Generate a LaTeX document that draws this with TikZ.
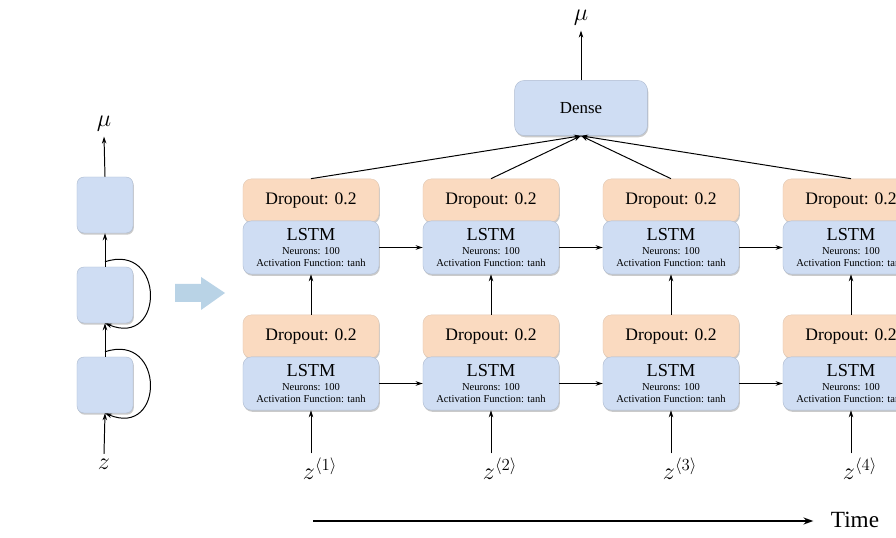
\documentclass[tikz,border=0pt]{standalone}
\usepackage{fontspec}
\setmainfont{Liberation Serif}
\usetikzlibrary{arrows.meta}
\usetikzlibrary{calc}
\usetikzlibrary{shadows}

\definecolor{cellblue}{HTML}{CFDDF3}
\definecolor{cellorange}{HTML}{FADAC0}
\definecolor{celledge}{HTML}{AEBBD0}
\definecolor{arrowblue}{HTML}{B9D3E6}

\tikzset{
  boxshadow/.style={drop shadow={shadow xshift=0.6pt,shadow yshift=-1.2pt,opacity=0.35,fill=black!60}},
  cell/.style={rectangle,rounded corners=5pt,fill=cellblue,draw=celledge,line width=0.3pt,minimum width=1.4cm,minimum height=1.4cm,boxshadow},
  lstmbox/.style={rectangle,rounded corners=6pt,fill=cellblue,draw=celledge,line width=0.3pt,minimum width=3.4cm,minimum height=1.33cm,inner sep=0pt,align=center,boxshadow},
  dropbox/.style={rectangle,rounded corners=6pt,fill=cellorange,draw=cellorange!80!gray,line width=0.3pt,minimum width=3.4cm,minimum height=1.08cm,inner sep=0pt,font=\fontsize{12.5}{14}\selectfont,boxshadow},
  densebox/.style={rectangle,rounded corners=7pt,fill=cellblue,draw=celledge,line width=0.3pt,minimum width=3.32cm,minimum height=1.38cm,font=\fontsize{12}{14}\selectfont,boxshadow},
  link/.style={-{Stealth[length=5pt,width=3.2pt]},line width=0.7pt},
  timeline/.style={-{Stealth[length=7pt,width=5pt]},line width=1.3pt}
}

\begin{document}
\begin{tikzpicture}[x=0.025cm,y=-0.025cm]
\useasboundingbox (0,0) rectangle (896,538);
\clip (0,0) rectangle (896,538);

% folded network
\node[cell] (c3) at (105,205) {};
\node[cell] (c2) at (105,295) {};
\node[cell] (c1) at (105,385) {};
\node[font=\fontsize{16}{16}\selectfont] (mu0) at (104,124) {$\mu$};
\node[font=\fontsize{16}{16}\selectfont] (z0) at (104,464) {$z$};
\draw[link] (c3.north) -- (mu0.south);
\draw[link] (c2.north) -- (c3.south);
\draw[link] (c1.north) -- (c2.south);
\draw[link] (z0.north) -- (c1.south);
\draw[link] ($(c2.north)+(0,-5)$) .. controls +(60,-20) and +(60,25) .. (c2.south);
\draw[link] ($(c1.north)+(0,-5)$) .. controls +(60,-20) and +(60,25) .. (c1.south);

\fill[arrowblue] (175,284) -- (201,284) -- (201,277) -- (225,293) -- (201,310) -- (201,302) -- (175,302) -- cycle;

% unrolled network
\foreach \i/\cx in {1/311,2/491,3/671,4/851}{
  \node[dropbox] (dropB\i) at (\cx,336.5) {Dropout: 0.2};
  \node[lstmbox] (lstmB\i) at (\cx,383.5) {{\fontsize{13}{14}\selectfont LSTM}\\[-1.5pt]{\fontsize{7.5}{8.5}\selectfont Neurons: 100}\\[-3.5pt]{\fontsize{7.5}{8.5}\selectfont Activation Function: tanh}};
  \node[dropbox] (dropA\i) at (\cx,200.5) {Dropout: 0.2};
  \node[lstmbox] (lstmA\i) at (\cx,247.5) {{\fontsize{13}{14}\selectfont LSTM}\\[-1.5pt]{\fontsize{7.5}{8.5}\selectfont Neurons: 100}\\[-3.5pt]{\fontsize{7.5}{8.5}\selectfont Activation Function: tanh}};
  \node[font=\fontsize{17}{17}\selectfont] (z\i) at (\cx+9,469) {$z^{\langle\i\rangle}$};
  \draw[link] (z\i.north -| lstmB\i.south) -- (lstmB\i.south);
  \draw[link] (dropB\i.north) -- (lstmA\i.south);
}
\foreach \i/\j in {1/2,2/3,3/4}{
  \draw[link] (lstmA\i.east) -- (lstmA\j.west);
  \draw[link] (lstmB\i.east) -- (lstmB\j.west);
}

\node[densebox] (dense) at (581,108) {Dense};
\node[font=\fontsize{16}{16}\selectfont] (mu) at (581,18) {$\mu$};
\draw[link] (dense.north) -- (mu.south);
\foreach \i in {1,...,4}
  \draw[link] (dropA\i.north) -- (dense.south);

\node[font=\fontsize{16.5}{18}\selectfont] (time) at (855,520) {Time};
\coordinate (t0) at (313,521);
\draw[timeline,shorten >=9pt] (t0) -- (time.west |- t0);

\end{tikzpicture}
\end{document}
